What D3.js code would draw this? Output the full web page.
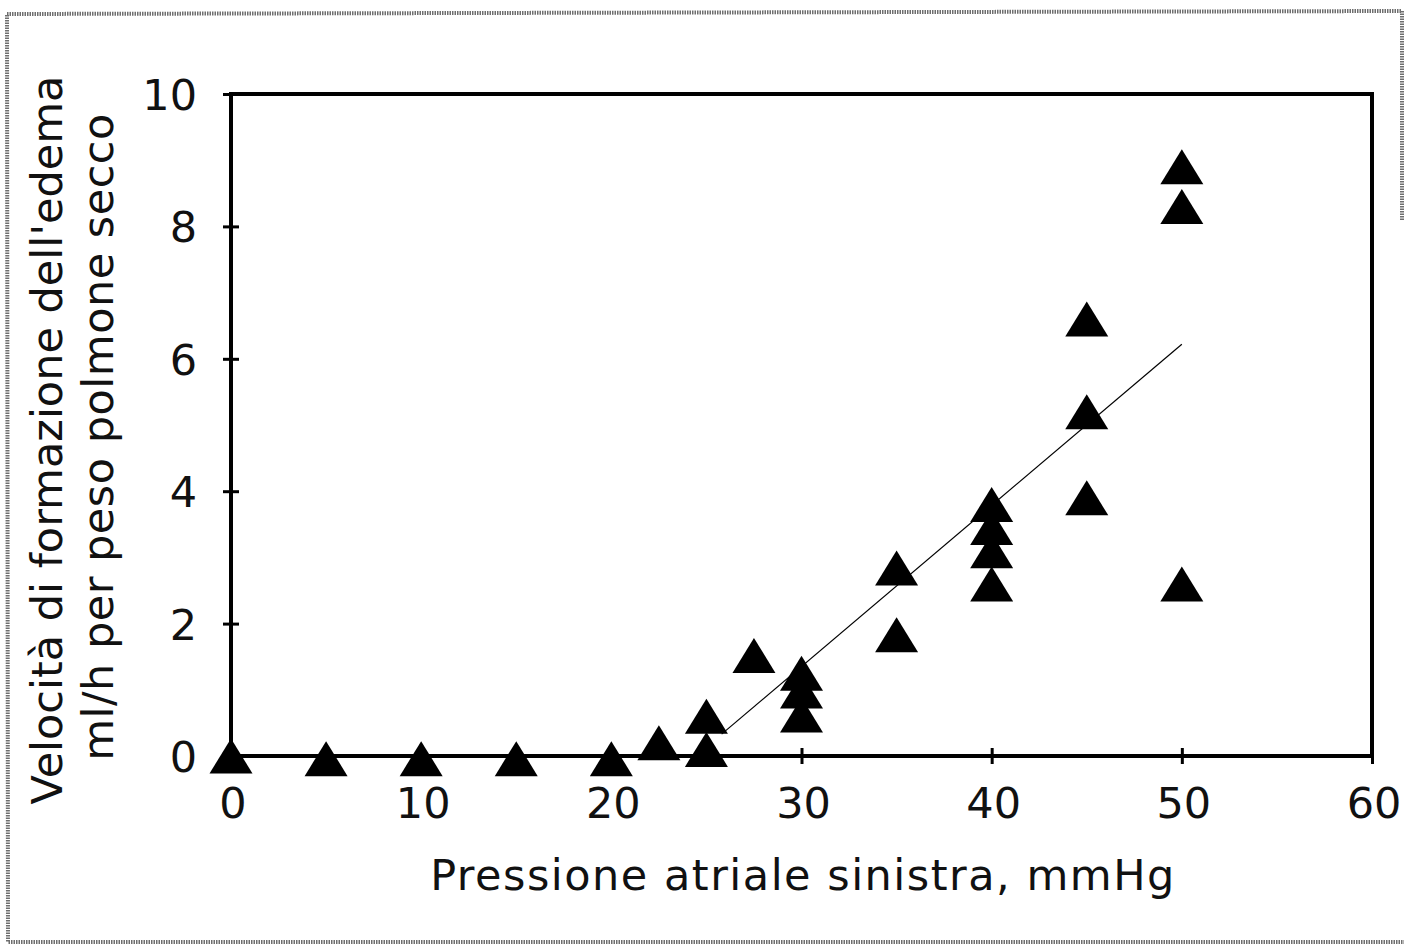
<!DOCTYPE html>
<html>
<head>
<meta charset="utf-8">
<script src="https://cdn.jsdelivr.net/npm/d3@7"></script>
<style>
  html, body { margin: 0; padding: 0; background: #fff; }
  svg { display: block; }
  .tick-label { font-family: "DejaVu Sans", sans-serif; font-size: 43px; fill: #111; }
  .axis-title { font-family: "DejaVu Sans", sans-serif; font-size: 43px; fill: #111; }
</style>
</head>
<body>
<div id="chart"></div>
<script>
// Edema formation rate vs left atrial pressure

const pressure = [0, 5, 10, 15, 20, 22.5, 25, 25, 27.5, 30, 30, 30, 35, 35, 40, 40, 40, 40, 45, 45, 45, 50, 50, 50];
const edemaRate = [0, -0.04, -0.04, -0.04, -0.04, 0.2, 0.6, 0.1, 1.52, 1.25, 0.98, 0.62, 2.84, 1.83, 3.8, 3.45, 3.1, 2.6, 6.6, 5.2, 3.9, 8.9, 8.3, 2.6];

// fitted line end points
const fitX = [25.8, 50];
const fitY = [0.33, 6.22];

const xTicks = [0, 10, 20, 30, 40, 50, 60];
const yTicks = [0, 2, 4, 6, 8, 10];

const xTitle = "Pressione atriale sinistra, mmHg";
const yTitle1 = "Velocità di formazione dell'edema";
const yTitle2 = "ml/h per peso polmone secco";

const width = 1404;
const height = 946;

const svg = d3.select("#chart").append("svg")
    .attr("width", width)
    .attr("height", height);

// scanned page frame
svg.append("path")
    .attr("d", "M1402,220 L1402,11 L7,14 L8,942 L1404,942")
    .attr("fill", "none")
    .attr("stroke", "#6e6e6e")
    .attr("stroke-width", 4)
    .attr("stroke-dasharray", "1.5 1");

const xScale = d3.scaleLinear().domain([0, 60]).range([231, 1372]);
const yScale = d3.scaleLinear().domain([0, 10]).range([756, 94]);

const g = svg.append("g");

// plot box
g.append("rect")
    .attr("x", xScale(0))
    .attr("y", yScale(10))
    .attr("width", xScale(60) - xScale(0))
    .attr("height", yScale(0) - yScale(10))
    .attr("fill", "none")
    .attr("stroke", "#000")
    .attr("stroke-width", 4);

// ticks crossing the axes
const tickLen = 8;

g.append("g")
    .attr("transform", `translate(0,${yScale(0)})`)
    .call(d3.axisBottom(xScale).tickValues(xTicks).tickSize(tickLen).tickFormat(""))
    .call(a => a.select(".domain").remove())
    .call(a => a.selectAll(".tick line").attr("stroke-width", 3).attr("y1", -tickLen));

g.append("g")
    .attr("transform", `translate(${xScale(0)},0)`)
    .call(d3.axisLeft(yScale).tickValues(yTicks).tickSize(tickLen).tickFormat(""))
    .call(a => a.select(".domain").remove())
    .call(a => a.selectAll(".tick line").attr("stroke-width", 3).attr("x1", tickLen));

// tick labels
g.selectAll(".x-label")
    .data(xTicks)
    .enter()
    .append("text")
    .attr("class", "tick-label")
    .attr("x", d => xScale(d) + 2)
    .attr("y", yScale(0) + 62)
    .attr("text-anchor", "middle")
    .text(d => d);

g.selectAll(".y-label")
    .data(yTicks)
    .enter()
    .append("text")
    .attr("class", "tick-label")
    .attr("x", xScale(0) - 34)
    .attr("y", d => yScale(d) + 16)
    .attr("text-anchor", "end")
    .text(d => d);

// regression line
g.append("line")
    .attr("x1", xScale(fitX[0]))
    .attr("y1", yScale(fitY[0]))
    .attr("x2", xScale(fitX[1]))
    .attr("y2", yScale(fitY[1]))
    .attr("stroke", "#000")
    .attr("stroke-width", 1.2);

// triangle markers centred on their bounding box
const triW = 43, triH = 35;
const triangle = `M0,${-triH / 2}L${triW / 2},${triH / 2}L${-triW / 2},${triH / 2}Z`;

g.selectAll(".point")
    .data(pressure.map((p, i) => ({ x: p, y: edemaRate[i] })))
    .enter()
    .append("path")
    .attr("class", "point")
    .attr("d", triangle)
    .attr("transform", d => `translate(${xScale(d.x)},${yScale(d.y)})`)
    .attr("fill", "#000");

// axis titles
g.append("text")
    .attr("class", "axis-title")
    .attr("x", 803)
    .attr("y", 890)
    .attr("text-anchor", "middle")
    .style("letter-spacing", "1.5px")
    .text(xTitle);

g.append("text")
    .attr("class", "axis-title")
    .attr("transform", "translate(62,440) rotate(-90)")
    .attr("text-anchor", "middle")
    .text(yTitle1);

g.append("text")
    .attr("class", "axis-title")
    .attr("transform", "translate(113,437) rotate(-90)")
    .attr("text-anchor", "middle")
    .style("letter-spacing", "0.5px")
    .text(yTitle2);
</script>
</body>
</html>
